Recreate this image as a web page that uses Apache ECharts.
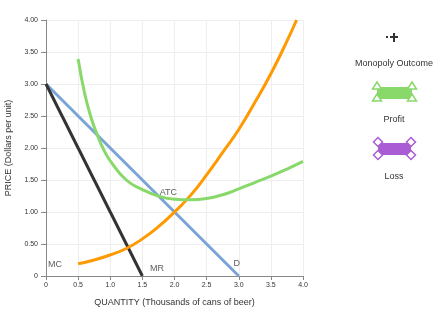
<!DOCTYPE html>
<html>
<head>
<meta charset="utf-8">
<script src="https://cdn.jsdelivr.net/npm/echarts@6/dist/echarts.min.js"></script>
<style>
  html, body { margin: 0; padding: 0; background: #fff; }
  #main { width: 435px; height: 321px; }
</style>
</head>
<body>
<div id="main"></div>
<script>
// demand and marginal revenue (straight lines)
var demandData = [[0, 3], [3, 0]];
var mrData = [[0, 3], [1.5, 0]];
// marginal cost
var mcData = [[0.5, 0.19], [0.75, 0.25], [1.0, 0.33], [1.25, 0.43], [1.5, 0.58], [1.75, 0.77],
  [2.0, 1.0], [2.25, 1.26], [2.5, 1.58], [2.75, 1.93], [3.0, 2.29], [3.25, 2.71], [3.5, 3.16],
  [3.75, 3.67], [3.9, 4.0]];
// average total cost
var atcData = [[0.5, 3.39], [0.6, 2.86], [0.7, 2.48], [0.8, 2.2], [0.9, 1.97], [1.0, 1.8],
  [1.25, 1.5], [1.5, 1.35], [1.75, 1.25], [2.0, 1.2], [2.25, 1.19], [2.5, 1.21], [2.75, 1.27],
  [3.0, 1.36], [3.25, 1.46], [3.5, 1.56], [3.75, 1.67], [4.0, 1.79]];
// curve labels
var curveLabels = [
  {name: 'MC', value: [0.03, 0.18]},
  {name: 'MR', value: [1.62, 0.11]},
  {name: 'ATC', value: [1.77, 1.31]},
  {name: 'D', value: [2.92, 0.2]}
];
var legendNames = ['Monopoly Outcome', 'Profit', 'Loss'];

var myChart = echarts.init(document.getElementById('main'));
var font = 'Liberation Sans, Arial, sans-serif';

function corners(x1, y1, x2, y2, shape, color) {
  var out = [];
  [[x1, y1], [x2, y1], [x1, y2], [x2, y2]].forEach(function (p) {
    if (shape == 'tri') {
      out.push({
        type: 'polygon',
        shape: {points: [[p[0], p[1] - 4], [p[0] + 4.5, p[1] + 3], [p[0] - 4.5, p[1] + 3]]},
        style: {fill: '#fff', stroke: color, lineWidth: 1.5}
      });
    } else {
      out.push({
        type: 'polygon',
        shape: {points: [[p[0], p[1] - 4.5], [p[0] + 4.5, p[1]], [p[0], p[1] + 4.5], [p[0] - 4.5, p[1]]]},
        style: {fill: '#fff', stroke: color, lineWidth: 1.5}
      });
    }
  });
  return out;
}

var graphics = [
  // monopoly outcome icon
  {type: 'rect', shape: {x: 386, y: 36, width: 2, height: 2}, style: {fill: '#333'}},
  {type: 'line', shape: {x1: 390, y1: 37, x2: 398, y2: 37}, style: {stroke: '#333', lineWidth: 2}},
  {type: 'line', shape: {x1: 394, y1: 33, x2: 394, y2: 42}, style: {stroke: '#333', lineWidth: 2}},
  {type: 'text', style: {x: 394, y: 64, text: legendNames[0], align: 'center', verticalAlign: 'middle',
    font: '9px ' + font, fill: '#333'}},
  // profit icon
  {type: 'rect', shape: {x: 377, y: 87, width: 35, height: 12}, style: {fill: '#88d86a'}},
  {type: 'text', style: {x: 394, y: 120, text: legendNames[1], align: 'center', verticalAlign: 'middle',
    font: '9px ' + font, fill: '#333'}},
  // loss icon
  {type: 'rect', shape: {x: 378, y: 143, width: 33, height: 12}, style: {fill: '#a95cd4'}},
  {type: 'text', style: {x: 394, y: 177, text: legendNames[2], align: 'center', verticalAlign: 'middle',
    font: '9px ' + font, fill: '#333'}}
];
graphics = graphics.concat(corners(377, 86, 412, 98, 'tri', '#88d86a'));
graphics = graphics.concat(corners(378, 142, 411, 155, 'dia', '#a95cd4'));

myChart.setOption({
  animation: false,
  grid: {left: 46, right: 132, top: 20, bottom: 45, containLabel: false, outerBoundsMode: 'none'},
  xAxis: {
    type: 'value', min: 0, max: 4, interval: 0.5,
    name: 'QUANTITY (Thousands of cans of beer)', nameLocation: 'middle', nameGap: 22,
    nameTextStyle: {fontSize: 9, color: '#333', fontFamily: font},
    axisLine: {show: true, lineStyle: {color: '#888'}},
    axisTick: {show: true, length: 4, lineStyle: {color: '#888'}},
    axisLabel: {fontSize: 7, color: '#333', fontFamily: font, margin: 6,
      formatter: function (v) { return v == 0 ? '0' : v.toFixed(1); }},
    splitLine: {show: true, lineStyle: {color: '#eee'}}
  },
  yAxis: {
    type: 'value', min: 0, max: 4, interval: 0.5,
    name: 'PRICE (Dollars per unit)', nameLocation: 'middle', nameGap: 30,
    nameTextStyle: {fontSize: 9, color: '#333', fontFamily: font},
    axisLine: {show: true, lineStyle: {color: '#888'}},
    axisTick: {show: true, length: 5, lineStyle: {color: '#888'}},
    axisLabel: {fontSize: 7, color: '#333', fontFamily: font, margin: 8,
      formatter: function (v) { return v == 0 ? '0' : v.toFixed(2); }},
    splitLine: {show: true, lineStyle: {color: '#eee'}}
  },
  series: [
    {type: 'line', data: demandData, symbol: 'none', lineStyle: {color: '#7ba4d6', width: 3}, z: 2},
    {type: 'line', data: mrData, symbol: 'none', lineStyle: {color: '#333', width: 3}, z: 3},
    {type: 'line', data: mcData, symbol: 'none', smooth: true,
      lineStyle: {color: '#ff9900', width: 3}, z: 4},
    {type: 'line', data: atcData, symbol: 'none', smooth: true,
      lineStyle: {color: '#88d86a', width: 3}, z: 5},
    {
      type: 'scatter', data: curveLabels, symbolSize: 0, silent: true, z: 6,
      label: {show: true, position: 'right', distance: 0, formatter: '{b}',
        fontSize: 9, color: '#333', fontFamily: font}
    }
  ],
  graphic: graphics
});
</script>
</body>
</html>
